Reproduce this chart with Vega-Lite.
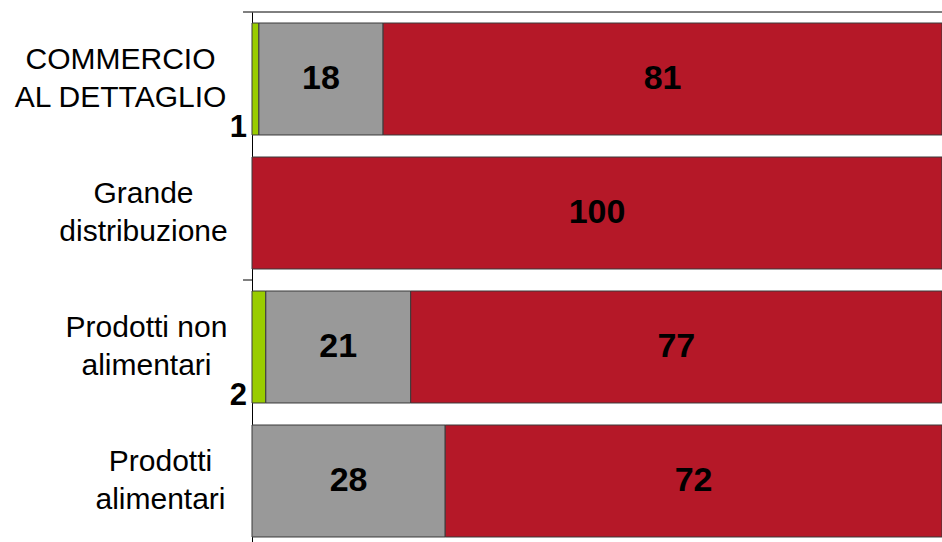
{
  "$schema": "https://vega.github.io/schema/vega-lite/v6.json",
  "width": 690,
  "height": 536,
  "autosize": {"type": "none"},
  "padding": {"left": 252, "top": 12, "right": 0, "bottom": 0},
  "background": "white",
  "config": {"view": {"stroke": null}, "font": "Liberation Sans"},
  "datasets": {
    "bars": [
      {"cat": "COMMERCIO\nAL DETTAGLIO", "serie": "s1", "ord": 1, "value": 1},
      {"cat": "COMMERCIO\nAL DETTAGLIO", "serie": "s2", "ord": 2, "value": 18},
      {"cat": "COMMERCIO\nAL DETTAGLIO", "serie": "s3", "ord": 3, "value": 81},
      {"cat": "Grande\ndistribuzione", "serie": "s3", "ord": 3, "value": 100},
      {"cat": "Prodotti non\nalimentari", "serie": "s1", "ord": 1, "value": 2},
      {"cat": "Prodotti non\nalimentari", "serie": "s2", "ord": 2, "value": 21},
      {"cat": "Prodotti non\nalimentari", "serie": "s3", "ord": 3, "value": 77},
      {"cat": "Prodotti\nalimentari", "serie": "s2", "ord": 2, "value": 28},
      {"cat": "Prodotti\nalimentari", "serie": "s3", "ord": 3, "value": 72}
    ],
    "groups": [
      {"cat": "COMMERCIO\nAL DETTAGLIO", "group": "1"},
      {"cat": "Prodotti non\nalimentari", "group": "2"}
    ],
    "lines": [
      {"cat": "COMMERCIO\nAL DETTAGLIO", "x0": -1.3, "x1": 100},
      {"cat": "Prodotti non\nalimentari", "x0": -1.3, "x1": 0}
    ]
  },
  "encoding": {
    "y": {
      "field": "cat",
      "type": "nominal",
      "sort": null,
      "scale": {
        "domain": ["COMMERCIO\nAL DETTAGLIO", "Grande\ndistribuzione", "Prodotti non\nalimentari", "Prodotti\nalimentari"],
        "paddingInner": 0.1642,
        "paddingOuter": 0.0821
      },
      "axis": {
        "title": null,
        "ticks": false,
        "tickSize": 0,
        "domainColor": "black",
        "domainWidth": 1,
        "labelExpr": "split(datum.value, '\\n')",
        "labelAlign": "center",
        "labelBaseline": "middle",
        "labelFont": "Liberation Sans",
        "labelFontSize": 30,
        "labelLineHeight": 38,
        "labelOffset": -19,
        "labelColor": "black",
        "labelLimit": 300,
        "labelPadding": {"expr": "indexof(datum.value, 'COMMERCIO') >= 0 ? 132 : indexof(datum.value, 'Grande') >= 0 ? 109 : indexof(datum.value, 'non') >= 0 ? 106 : 92"}
      }
    }
  },
  "layer": [
    {
      "data": {"name": "bars"},
      "mark": {"type": "bar", "stroke": "#3a3a3a", "strokeWidth": 1},
      "encoding": {
        "x": {"field": "value", "type": "quantitative", "stack": "zero", "scale": {"domain": [0, 100], "nice": false}, "axis": null},
        "color": {"field": "serie", "type": "nominal", "scale": {"domain": ["s1", "s2", "s3"], "range": ["#99CC00", "#999999", "#B51828"]}, "legend": null},
        "order": {"field": "ord"}
      }
    },
    {
      "data": {"name": "bars"},
      "mark": {"type": "text", "font": "Liberation Sans", "fontSize": 34, "fontWeight": "bold", "color": "black", "baseline": "middle", "align": "center"},
      "encoding": {
        "x": {"field": "value", "type": "quantitative", "stack": "zero", "bandPosition": 0.5},
        "text": {"condition": {"test": "datum.value < 5", "value": ""}, "field": "value", "type": "quantitative"},
        "order": {"field": "ord"}
      }
    },
    {
      "data": {"name": "groups"},
      "mark": {"type": "text", "font": "Liberation Sans", "fontSize": 31, "fontWeight": "bold", "color": "black", "baseline": "alphabetic", "align": "right", "dx": -5, "dy": 2},
      "encoding": {
        "x": {"datum": 0, "type": "quantitative"},
        "y": {"field": "cat", "type": "nominal", "bandPosition": 1},
        "text": {"field": "group"}
      }
    },
    {
      "data": {"name": "lines"},
      "mark": {"type": "rule", "color": "black", "strokeWidth": 1},
      "encoding": {
        "x": {"field": "x0", "type": "quantitative"},
        "x2": {"field": "x1"},
        "y": {"field": "cat", "type": "nominal", "bandPosition": -0.0982}
      }
    }
  ]
}
